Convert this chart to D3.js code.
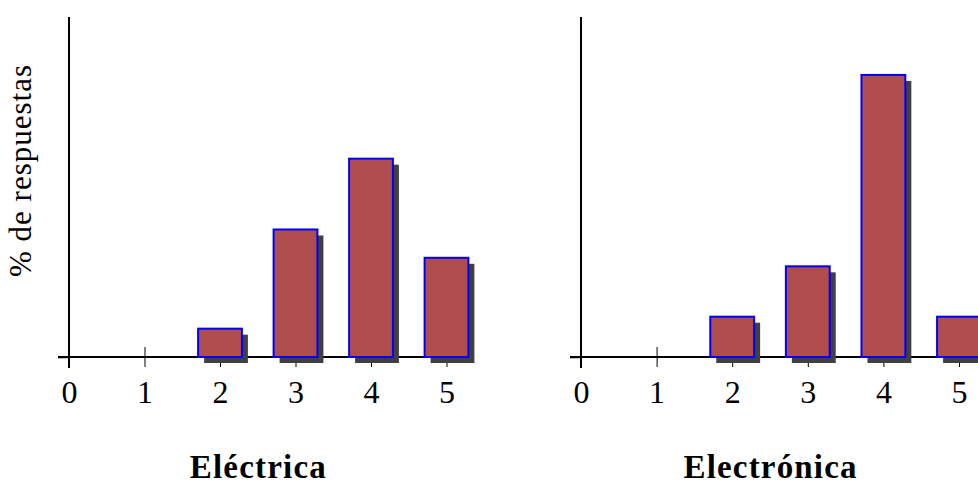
<!DOCTYPE html>
<html>
<head>
<meta charset="utf-8">
<script src="https://cdn.jsdelivr.net/npm/d3@7"></script>
<style>
  html, body { margin: 0; padding: 0; background: #fff; }
  svg { display: block; }
  text { font-family: "Liberation Serif", "DejaVu Serif", serif; fill: #000; }
</style>
</head>
<body>
<svg id="chart" width="978" height="485"></svg>
<script>
// Answer scale 0..5, share of answers (%) per career
const scoreTicks = [0, 1, 2, 3, 4, 5];
const scores = [2, 3, 4, 5];
const electricaPct = [6.25, 28.13, 43.75, 21.88];
const electronicaPct = [8.89, 20.0, 62.22, 8.89];
const panelTitles = ["Eléctrica", "Electrónica"];
const yLabel = "% de respuestas";

const panels = [
  { title: panelTitles[0], values: electricaPct, x0: 69, x5: 446.5, titleLen: 136 },
  { title: panelTitles[1], values: electronicaPct, x0: 581, x5: 959, titleLen: 173 }
];

const svg = d3.select("#chart");
const baseY = 357, topY = 17;
const y = d3.scaleLinear().domain([0, 75]).range([baseY, topY]);

const barFill = "#b04e4e", barStroke = "#0000ff", shadowFill = "#404040";
const barW = 0.58, shadowOff = 6;

panels.forEach(p => {
  const x = d3.scaleLinear().domain([0, 5]).range([p.x0, p.x5]);
  const g = svg.append("g");
  const rows = scores.map((s, i) => ({ s, v: p.values[i] }));

  // x axis: ticks straddle the baseline
  const xAxis = g.append("g")
    .attr("transform", `translate(0,${baseY})`)
    .call(d3.axisBottom(x).tickValues(scoreTicks).tickSize(10).tickSizeOuter(0).tickFormat(d3.format("d")));
  xAxis.select(".domain").remove();
  xAxis.selectAll(".tick line").attr("y1", -10).attr("y2", 10).attr("stroke", "#000").attr("stroke-width", 1);
  xAxis.selectAll(".tick text")
    .attr("y", 46).attr("dy", null)
    .style("font-size", "32px").style("font-family", "Liberation Serif, serif");

  // baseline
  g.append("line")
    .attr("x1", x(0) - 11).attr("x2", x(5.3))
    .attr("y1", baseY).attr("y2", baseY)
    .attr("stroke", "#000").attr("stroke-width", 2);

  // y axis
  const yAxis = g.append("g")
    .attr("transform", `translate(${x(0)},0)`)
    .call(d3.axisLeft(y).tickValues([0]).tickSize(11).tickSizeOuter(0).tickFormat(""));
  yAxis.select(".domain").attr("stroke", "#000").attr("stroke-width", 2)
    .attr("d", `M0,${topY}V${baseY + 11}`);
  yAxis.selectAll(".tick line").attr("stroke", "#000").attr("stroke-width", 1.5);

  // shadows
  g.selectAll("rect.shadow").data(rows).join("rect")
    .attr("class", "shadow")
    .attr("x", d => x(d.s - barW / 2) + shadowOff)
    .attr("y", d => y(d.v) + shadowOff)
    .attr("width", x(barW) - x(0))
    .attr("height", d => baseY - y(d.v))
    .attr("fill", shadowFill);

  // bars
  g.selectAll("rect.bar").data(rows).join("rect")
    .attr("class", "bar")
    .attr("x", d => x(d.s - barW / 2))
    .attr("y", d => y(d.v))
    .attr("width", x(barW) - x(0))
    .attr("height", d => baseY - y(d.v))
    .attr("fill", barFill)
    .attr("stroke", barStroke)
    .attr("stroke-width", 2);

  // panel title
  g.append("text")
    .attr("x", x(2.5)).attr("y", 478)
    .attr("text-anchor", "middle")
    .attr("textLength", p.titleLen).attr("lengthAdjust", "spacing")
    .style("font-size", "33px").style("font-weight", "bold")
    .text(p.title);
});

// shared y label
svg.append("text")
  .attr("transform", "translate(31,171) rotate(-90)")
  .attr("text-anchor", "middle")
  .attr("textLength", 212).attr("lengthAdjust", "spacing")
  .style("font-size", "31px")
  .text(yLabel);
</script>
</body>
</html>
